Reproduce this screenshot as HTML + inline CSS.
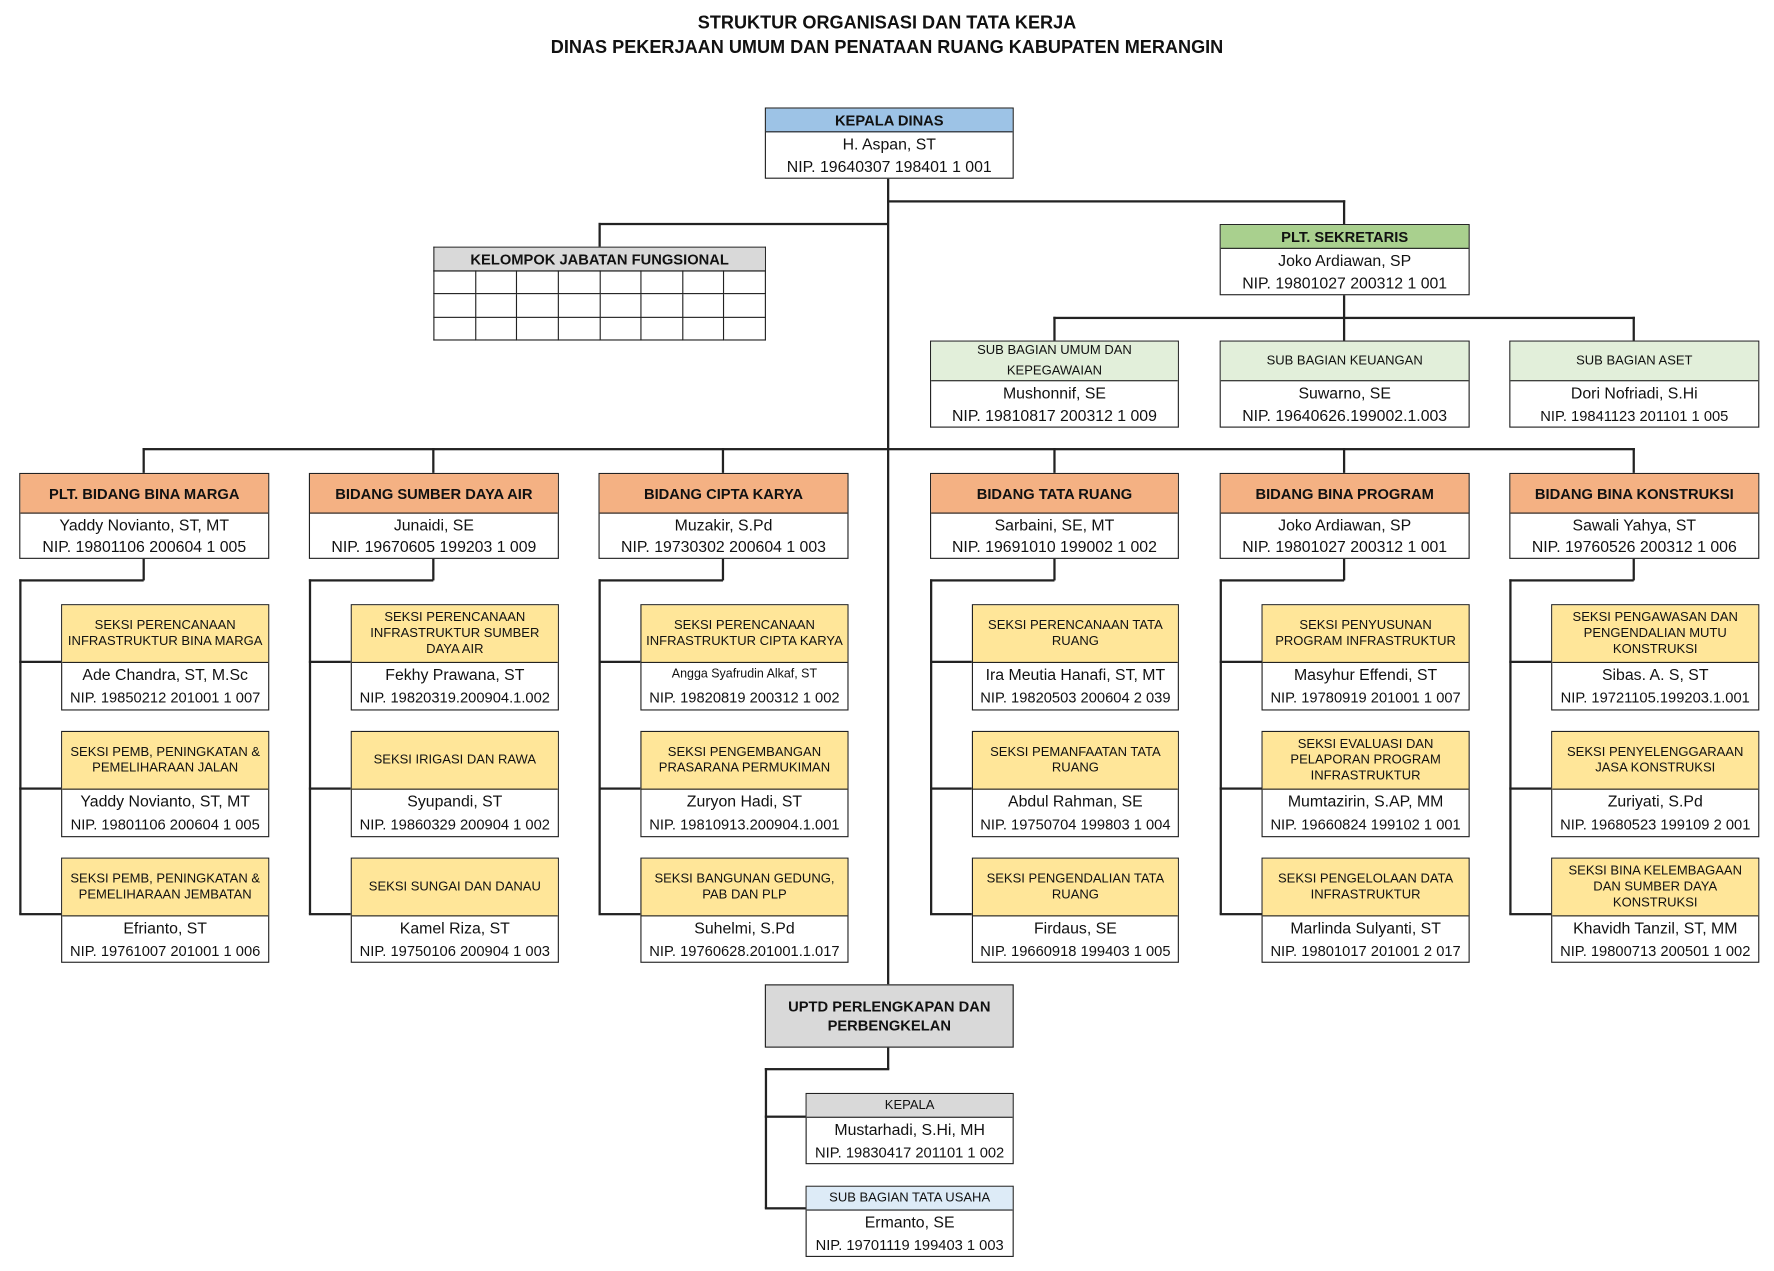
<!DOCTYPE html>
<html><head><meta charset="utf-8"><style>
html,body{margin:0;padding:0;background:#fff;}
body{width:1774px;height:1271px;overflow:hidden;position:relative;}
#w{position:absolute;left:0;top:0;width:1568px;height:1123px;transform:scale(1.1314);transform-origin:0 0;font-family:"Liberation Sans Narrow","Liberation Sans",Arial,sans-serif;color:#111;}
.b{position:absolute;border:1.3px solid #222;background:#fff;box-sizing:border-box;text-align:center;display:flex;flex-direction:column;}
.h{display:flex;align-items:center;justify-content:center;border-bottom:1.3px solid #222;box-sizing:border-box;flex:none;}
.hb{font-weight:bold;font-size:13px;}
.hs{font-size:11.5px;line-height:14px;padding:0 3px;}
.r{flex:1;display:flex;align-items:center;justify-content:center;font-size:14px;white-space:nowrap;}
.ln{position:absolute;background:#222;}
.t{position:absolute;left:0;width:1568px;text-align:center;font-family:"Liberation Sans",Arial,sans-serif;font-weight:bold;font-size:16px;}
.bl{background:#9dc3e6}.gr{background:#a9d08e}.lg{background:#e2efda}.or{background:#f4b183}.ye{background:#ffe699}.gy{background:#d9d9d9}.lb{background:#ddebf7}
table{border-collapse:collapse;position:absolute;}
td{border:1.3px solid #222;width:35.6px;height:19.3px;padding:0;}
</style></head><body><div id="w">
<div class="t" style="top:12px">STRUKTUR ORGANISASI DAN TATA KERJA</div>
<div class="t" style="top:34px">DINAS PEKERJAAN UMUM DAN PENATAAN RUANG KABUPATEN MERANGIN</div>

<!-- lines -->
<div class="ln" style="left:784px;top:157px;width:1.5px;height:713px"></div>
<div class="ln" style="left:784px;top:177px;width:405px;height:1.5px"></div>
<div class="ln" style="left:1187px;top:177px;width:1.5px;height:21px"></div>
<div class="ln" style="left:529px;top:197px;width:256px;height:1.5px"></div>
<div class="ln" style="left:529px;top:197px;width:1.5px;height:21px"></div>
<div class="ln" style="left:1187px;top:260px;width:1.5px;height:41px"></div>
<div class="ln" style="left:931px;top:280px;width:514px;height:1.5px"></div>
<div class="ln" style="left:931px;top:280px;width:1.5px;height:21px"></div>
<div class="ln" style="left:1443px;top:280px;width:1.5px;height:21px"></div>
<div class="ln" style="left:126px;top:396px;width:1319px;height:1.5px"></div>
<div class="ln" style="left:126px;top:396px;width:1.5px;height:22px"></div>
<div class="ln" style="left:382px;top:396px;width:1.5px;height:22px"></div>
<div class="ln" style="left:638px;top:396px;width:1.5px;height:22px"></div>
<div class="ln" style="left:931px;top:396px;width:1.5px;height:22px"></div>
<div class="ln" style="left:1187px;top:396px;width:1.5px;height:22px"></div>
<div class="ln" style="left:1443px;top:396px;width:1.5px;height:22px"></div>

<!-- bidang sub-trees lines -->
<div class="ln" style="left:126px;top:493px;width:1.5px;height:20px"></div><div class="ln" style="left:17px;top:512px;width:110px;height:1.5px"></div><div class="ln" style="left:17px;top:512px;width:1.5px;height:296px"></div>
<div class="ln" style="left:17px;top:584px;width:37px;height:1.5px"></div><div class="ln" style="left:17px;top:696px;width:37px;height:1.5px"></div><div class="ln" style="left:17px;top:807px;width:37px;height:1.5px"></div>
<div class="ln" style="left:382px;top:493px;width:1.5px;height:20px"></div><div class="ln" style="left:273px;top:512px;width:110px;height:1.5px"></div><div class="ln" style="left:273px;top:512px;width:1.5px;height:296px"></div>
<div class="ln" style="left:273px;top:584px;width:37px;height:1.5px"></div><div class="ln" style="left:273px;top:696px;width:37px;height:1.5px"></div><div class="ln" style="left:273px;top:807px;width:37px;height:1.5px"></div>
<div class="ln" style="left:638px;top:493px;width:1.5px;height:20px"></div><div class="ln" style="left:529px;top:512px;width:110px;height:1.5px"></div><div class="ln" style="left:529px;top:512px;width:1.5px;height:296px"></div>
<div class="ln" style="left:529px;top:584px;width:37px;height:1.5px"></div><div class="ln" style="left:529px;top:696px;width:37px;height:1.5px"></div><div class="ln" style="left:529px;top:807px;width:37px;height:1.5px"></div>
<div class="ln" style="left:931px;top:493px;width:1.5px;height:20px"></div><div class="ln" style="left:822px;top:512px;width:110px;height:1.5px"></div><div class="ln" style="left:822px;top:512px;width:1.5px;height:296px"></div>
<div class="ln" style="left:822px;top:584px;width:37px;height:1.5px"></div><div class="ln" style="left:822px;top:696px;width:37px;height:1.5px"></div><div class="ln" style="left:822px;top:807px;width:37px;height:1.5px"></div>
<div class="ln" style="left:1187px;top:493px;width:1.5px;height:20px"></div><div class="ln" style="left:1078px;top:512px;width:110px;height:1.5px"></div><div class="ln" style="left:1078px;top:512px;width:1.5px;height:296px"></div>
<div class="ln" style="left:1078px;top:584px;width:37px;height:1.5px"></div><div class="ln" style="left:1078px;top:696px;width:37px;height:1.5px"></div><div class="ln" style="left:1078px;top:807px;width:37px;height:1.5px"></div>
<div class="ln" style="left:1443px;top:493px;width:1.5px;height:20px"></div><div class="ln" style="left:1334px;top:512px;width:110px;height:1.5px"></div><div class="ln" style="left:1334px;top:512px;width:1.5px;height:296px"></div>
<div class="ln" style="left:1334px;top:584px;width:37px;height:1.5px"></div><div class="ln" style="left:1334px;top:696px;width:37px;height:1.5px"></div><div class="ln" style="left:1334px;top:807px;width:37px;height:1.5px"></div>

<!-- uptd lines -->
<div class="ln" style="left:784px;top:925px;width:1.5px;height:20px"></div>
<div class="ln" style="left:676px;top:944px;width:110px;height:1.5px"></div>
<div class="ln" style="left:676px;top:944px;width:1.5px;height:124px"></div>
<div class="ln" style="left:676px;top:986px;width:36px;height:1.5px"></div>
<div class="ln" style="left:676px;top:1067px;width:36px;height:1.5px"></div>

<!-- top boxes -->
<div class="b" style="left:676px;top:95px;width:220px;height:63px"><div class="h hb bl" style="height:21px">KEPALA DINAS</div><div class="r">H. Aspan, ST</div><div class="r">NIP. 19640307 198401 1 001</div></div>
<div class="b" style="left:1078px;top:198px;width:221px;height:63px"><div class="h hb gr" style="height:21px">PLT. SEKRETARIS</div><div class="r">Joko Ardiawan, SP</div><div class="r">NIP. 19801027 200312 1 001</div></div>
<div class="b" style="left:383px;top:218px;width:294px;height:22px;border-bottom:none"><div class="h hb gy" style="height:21px">KELOMPOK JABATAN FUNGSIONAL</div></div>
<table style="left:383px;top:239px;width:294px"><tr><td></td><td></td><td></td><td></td><td></td><td></td><td></td><td></td></tr><tr><td></td><td></td><td></td><td></td><td></td><td></td><td></td><td></td></tr><tr><td></td><td></td><td></td><td></td><td></td><td></td><td></td><td></td></tr></table>

<!-- sub bagian -->
<div class="b" style="left:822px;top:301px;width:220px;height:77px"><div class="h hs lg" style="height:35px;line-height:18px">SUB BAGIAN UMUM DAN KEPEGAWAIAN</div><div class="r">Mushonnif, SE</div><div class="r">NIP. 19810817 200312 1 009</div></div>
<div class="b" style="left:1078px;top:301px;width:221px;height:77px"><div class="h hs lg" style="height:35px">SUB BAGIAN KEUANGAN</div><div class="r">Suwarno, SE</div><div class="r">NIP. 19640626.199002.1.003</div></div>
<div class="b" style="left:1334px;top:301px;width:221px;height:77px"><div class="h hs lg" style="height:35px">SUB BAGIAN ASET</div><div class="r">Dori Nofriadi, S.Hi</div><div class="r" style="font-size:13px">NIP. 19841123 201101 1 005</div></div>

<!-- bidang -->
<div class="b" style="left:17px;top:418px;width:221px;height:76px"><div class="h hb or" style="height:35px">PLT. BIDANG BINA MARGA</div><div class="r">Yaddy Novianto, ST, MT</div><div class="r">NIP. 19801106 200604 1 005</div></div>
<div class="b" style="left:273px;top:418px;width:221px;height:76px"><div class="h hb or" style="height:35px">BIDANG SUMBER DAYA AIR</div><div class="r">Junaidi, SE</div><div class="r">NIP. 19670605 199203 1 009</div></div>
<div class="b" style="left:529px;top:418px;width:221px;height:76px"><div class="h hb or" style="height:35px">BIDANG CIPTA KARYA</div><div class="r">Muzakir, S.Pd</div><div class="r">NIP. 19730302 200604 1 003</div></div>
<div class="b" style="left:822px;top:418px;width:220px;height:76px"><div class="h hb or" style="height:35px">BIDANG TATA RUANG</div><div class="r">Sarbaini, SE, MT</div><div class="r">NIP. 19691010 199002 1 002</div></div>
<div class="b" style="left:1078px;top:418px;width:221px;height:76px"><div class="h hb or" style="height:35px">BIDANG BINA PROGRAM</div><div class="r">Joko Ardiawan, SP</div><div class="r">NIP. 19801027 200312 1 001</div></div>
<div class="b" style="left:1334px;top:418px;width:221px;height:76px"><div class="h hb or" style="height:35px">BIDANG BINA KONSTRUKSI</div><div class="r">Sawali Yahya, ST</div><div class="r">NIP. 19760526 200312 1 006</div></div>

<!-- seksi col 1 -->
<div class="b" style="left:54px;top:534px;width:184px;height:94px"><div class="h hs ye" style="height:51px">SEKSI PERENCANAAN INFRASTRUKTUR BINA MARGA</div><div class="r">Ade Chandra, ST, M.Sc</div><div class="r" style="font-size:13px">NIP. 19850212 201001 1 007</div></div>
<div class="b" style="left:54px;top:646px;width:184px;height:94px"><div class="h hs ye" style="height:51px">SEKSI PEMB, PENINGKATAN &amp; PEMELIHARAAN JALAN</div><div class="r">Yaddy Novianto, ST, MT</div><div class="r" style="font-size:13px">NIP. 19801106 200604 1 005</div></div>
<div class="b" style="left:54px;top:758px;width:184px;height:93px"><div class="h hs ye" style="height:51px">SEKSI PEMB, PENINGKATAN &amp; PEMELIHARAAN JEMBATAN</div><div class="r">Efrianto, ST</div><div class="r" style="font-size:13px">NIP. 19761007 201001 1 006</div></div>
<!-- col 2 -->
<div class="b" style="left:310px;top:534px;width:184px;height:94px"><div class="h hs ye" style="height:51px">SEKSI PERENCANAAN INFRASTRUKTUR SUMBER DAYA AIR</div><div class="r">Fekhy Prawana, ST</div><div class="r" style="font-size:13px">NIP. 19820319.200904.1.002</div></div>
<div class="b" style="left:310px;top:646px;width:184px;height:94px"><div class="h hs ye" style="height:51px">SEKSI IRIGASI DAN RAWA</div><div class="r">Syupandi, ST</div><div class="r" style="font-size:13px">NIP. 19860329 200904 1 002</div></div>
<div class="b" style="left:310px;top:758px;width:184px;height:93px"><div class="h hs ye" style="height:51px">SEKSI SUNGAI DAN DANAU</div><div class="r">Kamel Riza, ST</div><div class="r" style="font-size:13px">NIP. 19750106 200904 1 003</div></div>
<!-- col 3 -->
<div class="b" style="left:566px;top:534px;width:184px;height:94px"><div class="h hs ye" style="height:51px">SEKSI PERENCANAAN INFRASTRUKTUR CIPTA KARYA</div><div class="r" style="font-size:11px">Angga Syafrudin Alkaf, ST</div><div class="r" style="font-size:13px">NIP. 19820819 200312 1 002</div></div>
<div class="b" style="left:566px;top:646px;width:184px;height:94px"><div class="h hs ye" style="height:51px">SEKSI PENGEMBANGAN PRASARANA PERMUKIMAN</div><div class="r">Zuryon Hadi, ST</div><div class="r" style="font-size:13px">NIP. 19810913.200904.1.001</div></div>
<div class="b" style="left:566px;top:758px;width:184px;height:93px"><div class="h hs ye" style="height:51px">SEKSI BANGUNAN GEDUNG, PAB DAN PLP</div><div class="r">Suhelmi, S.Pd</div><div class="r" style="font-size:13px">NIP. 19760628.201001.1.017</div></div>
<!-- col 4 -->
<div class="b" style="left:859px;top:534px;width:183px;height:94px"><div class="h hs ye" style="height:51px">SEKSI PERENCANAAN TATA RUANG</div><div class="r">Ira Meutia Hanafi, ST, MT</div><div class="r" style="font-size:13px">NIP. 19820503 200604 2 039</div></div>
<div class="b" style="left:859px;top:646px;width:183px;height:94px"><div class="h hs ye" style="height:51px">SEKSI PEMANFAATAN TATA RUANG</div><div class="r">Abdul Rahman, SE</div><div class="r" style="font-size:13px">NIP. 19750704 199803 1 004</div></div>
<div class="b" style="left:859px;top:758px;width:183px;height:93px"><div class="h hs ye" style="height:51px">SEKSI PENGENDALIAN TATA RUANG</div><div class="r">Firdaus, SE</div><div class="r" style="font-size:13px">NIP. 19660918 199403 1 005</div></div>
<!-- col 5 -->
<div class="b" style="left:1115px;top:534px;width:184px;height:94px"><div class="h hs ye" style="height:51px">SEKSI PENYUSUNAN PROGRAM INFRASTRUKTUR</div><div class="r">Masyhur Effendi, ST</div><div class="r" style="font-size:13px">NIP. 19780919 201001 1 007</div></div>
<div class="b" style="left:1115px;top:646px;width:184px;height:94px"><div class="h hs ye" style="height:51px">SEKSI EVALUASI DAN PELAPORAN PROGRAM INFRASTRUKTUR</div><div class="r">Mumtazirin, S.AP, MM</div><div class="r" style="font-size:13px">NIP. 19660824 199102 1 001</div></div>
<div class="b" style="left:1115px;top:758px;width:184px;height:93px"><div class="h hs ye" style="height:51px">SEKSI PENGELOLAAN DATA INFRASTRUKTUR</div><div class="r">Marlinda Sulyanti, ST</div><div class="r" style="font-size:13px">NIP. 19801017 201001 2 017</div></div>
<!-- col 6 -->
<div class="b" style="left:1371px;top:534px;width:184px;height:94px"><div class="h hs ye" style="height:51px">SEKSI PENGAWASAN DAN PENGENDALIAN MUTU KONSTRUKSI</div><div class="r">Sibas. A. S, ST</div><div class="r" style="font-size:13px">NIP. 19721105.199203.1.001</div></div>
<div class="b" style="left:1371px;top:646px;width:184px;height:94px"><div class="h hs ye" style="height:51px">SEKSI PENYELENGGARAAN JASA KONSTRUKSI</div><div class="r">Zuriyati, S.Pd</div><div class="r" style="font-size:13px">NIP. 19680523 199109 2 001</div></div>
<div class="b" style="left:1371px;top:758px;width:184px;height:93px"><div class="h hs ye" style="height:51px">SEKSI BINA KELEMBAGAAN DAN SUMBER DAYA KONSTRUKSI</div><div class="r">Khavidh Tanzil, ST, MM</div><div class="r" style="font-size:13px">NIP. 19800713 200501 1 002</div></div>

<!-- UPTD -->
<div class="b gy" style="left:676px;top:870px;width:220px;height:56px;justify-content:center;font-weight:bold;font-size:13px;line-height:17px">UPTD PERLENGKAPAN DAN<br>PERBENGKELAN</div>
<div class="b" style="left:712px;top:966px;width:184px;height:63px"><div class="h hs gy" style="height:21px">KEPALA</div><div class="r">Mustarhadi, S.Hi, MH</div><div class="r" style="font-size:13px">NIP. 19830417 201101 1 002</div></div>
<div class="b" style="left:712px;top:1048px;width:184px;height:63px"><div class="h hs lb" style="height:21px">SUB BAGIAN TATA USAHA</div><div class="r">Ermanto, SE</div><div class="r" style="font-size:13px">NIP. 19701119 199403 1 003</div></div>
</div></body></html>
